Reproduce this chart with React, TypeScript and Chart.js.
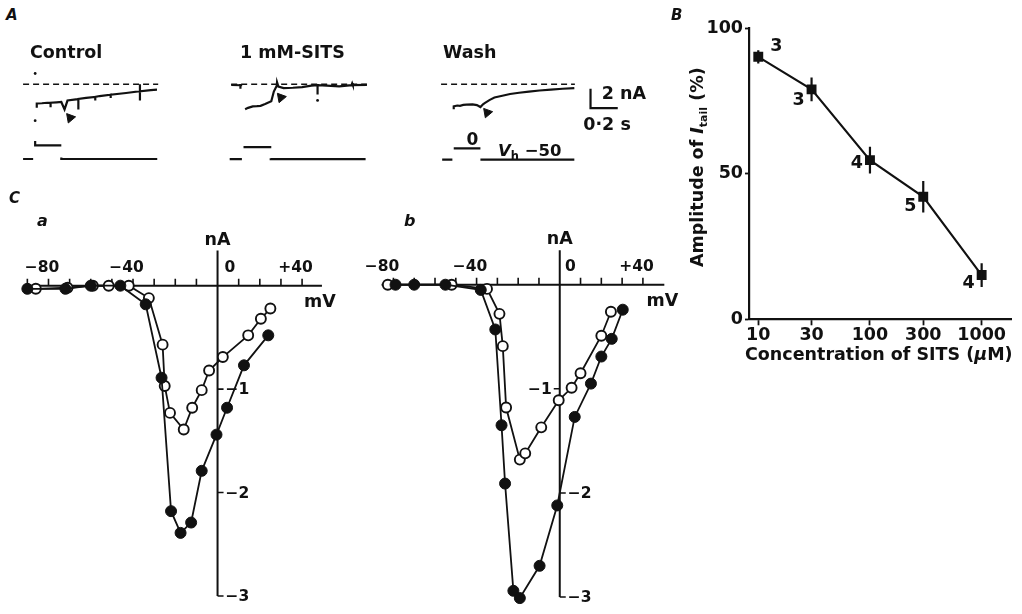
import React, { useEffect, useRef } from 'react';
import { Chart, registerables } from 'chart.js';

Chart.register(...registerables);

const FONT = '"DejaVu Sans", "Liberation Sans", Arial, sans-serif';
const INK = '#111';

type P = [number, number];

// ---------------- Panel A: current traces (time from step onset, s ; current, nA) ----------------
const controlTrace: P[] = [
  [0.012, -2.42], [0.012, -1.97], [0.05, -1.95], [0.09, -1.9], [0.115, -1.9], [0.115, -2.35], [0.115, -1.9],
  [0.16, -1.85], [0.195, -1.82], [0.219, -2.58], [0.241, -1.67], [0.322, -1.52], [0.322, -2.58], [0.322, -1.5],
  [0.38, -1.4], [0.448, -1.3], [0.448, -1.67], [0.448, -1.3], [0.48, -1.21], [0.563, -1.08], [0.563, -1.42],
  [0.563, -1.08], [0.678, -0.9], [0.781, -0.72], [0.781, 0], [0.781, -1.67], [0.781, -0.72], [0.862, -0.6], [0.908, -0.55],
];
const controlDots: P[] = [[0, 1.1], [0, -3.73]];
const controlArrow: P[] = [[0.261, -3.44]];
const controlBaseline: P[] = [[-0.09, 0], [0.917, 0]];
const controlVpre: P[] = [[-0.09, -50], [-0.015, -50]];
const controlVstep: P[] = [[0, 16], [0, 0], [0.195, 0]];
const controlVpost: P[] = [[0.195, -44], [0.195, -50], [0.91, -50]];

const sitsPre: P[] = [[-0.092, -0.08], [-0.023, -0.1], [-0.023, -0.45], [-0.023, -0.1], [-0.01, -0.1]];
const sitsTrace: P[] = [
  [0.012, -2.57], [0.034, -2.42], [0.069, -2.27], [0.1, -2.25], [0.127, -2.21], [0.161, -2.03], [0.207, -1.75],
  [0.226, -0.75], [0.248, -0.15], [0.25, 0.2], [0.26, -0.25], [0.299, -0.39], [0.368, -0.36], [0.437, -0.3],
  [0.506, -0.15], [0.552, -0.1], [0.552, -1.06], [0.552, -0.1], [0.621, -0.15], [0.713, -0.21], [0.805, -0.09],
  [0.81, 0.09], [0.815, -0.09], [0.92, -0.06],
];
const sitsDots: P[] = [[0.552, -1.66]];
const sitsArrow: P[] = [[0.279, -1.36]];
const sitsBaseline: P[] = [[-0.092, 0], [0.92, 0]];
const sitsVpre: P[] = [[-0.103, -50], [-0.012, -50]];
const sitsVstep: P[] = [[0, 0], [0.207, 0]];
const sitsVpost: P[] = [[0.203, -46], [0.203, -50], [0.91, -50]];

const washTrace: P[] = [
  [0, -2.57], [0, -2.27], [0.026, -2.18], [0.046, -2.21], [0.07, -2.12], [0.094, -2.09], [0.138, -2.06],
  [0.17, -2.14], [0.196, -2.34], [0.215, -2.05], [0.23, -1.91], [0.265, -1.6], [0.299, -1.36], [0.357, -1.18],
  [0.414, -1.0], [0.48, -0.87], [0.552, -0.75], [0.63, -0.64], [0.713, -0.55], [0.8, -0.46], [0.886, -0.39],
];
const washArrow: P[] = [[0.246, -2.91]];
const washBaseline: P[] = [[-0.093, 0], [0.89, 0]];
const washVpre: P[] = [[-0.085, -50], [-0.01, -50]];
const washVstep: P[] = [[0, 0], [0.196, 0]];
const washVpost: P[] = [[0.196, -50], [0.886, -50]];
// calibration bar: 2 nA / 0.2 s
const calibrationBar: P[] = [[1.005, -0.45], [1.005, -2.45], [1.205, -2.45]];

// ---------------- Panel B: dose–response ----------------
const sitsConc = [10, 30, 100, 300, 1000];
const tailAmp = [90.2, 79.0, 54.7, 42.1, 15.2];
const tailSem = [2.3, 4.1, 4.6, 5.4, 4.1];
const nCells = [3, 3, 4, 5, 4];
const nLabelOffsets: P[] = [[18, -10], [-13, 11], [-13, 3], [-13, 10], [-13, 8]];
const concTicks = [10, 30, 100, 300, 1000];
const ampTicks = [0, 50, 100];

// ---------------- Panel C: I–V relations (mV ; nA) ----------------
const ivAmVControl = [-90, -72, -60, -46, -34, -26.5, -22, -17.5, -12.5, -7.5, -0.5, 4.5, 12.5, 24];
const ivAnAControl = [-0.03, -0.03, 0, 0, -0.18, -0.89, -2.18, -2.39, -2.29, -1.79, -1.44, -1.18, -0.77, -0.48];
const ivAmVSits = [-86, -71, -59, -51.5, -42, -32.5, -26, -25, -22.5, -16, -12, -7.5, -4, 2.5, 14.5, 20.5, 25];
const ivAnASits = [-0.03, -0.02, 0, 0, 0, -0.12, -0.57, -0.97, -1.23, -1.39, -1.18, -1.01, -0.82, -0.69, -0.48, -0.32, -0.22];

const ivBmVControl = [-79, -70, -55, -38, -31, -28, -26.3, -22.3, -19.2, -9.7, -1.2, 7.2, 15, 20, 25, 30.3];
const ivBnAControl = [0, 0, 0, -0.05, -0.43, -1.35, -1.91, -2.94, -3.01, -2.7, -2.12, -1.27, -0.95, -0.69, -0.52, -0.24];
const ivBmVSits = [-82.7, -52, -35, -29, -27.4, -25.8, -19.2, -16.6, -8.9, -0.5, 5.7, 10, 20, 24.6];
const ivBnASits = [0, 0, -0.04, -0.28, -0.59, -1.18, -1.68, -1.62, -1.37, -1.11, -0.99, -0.85, -0.49, -0.26];

const ivTicksA = [-90, -80, -70, -60, -50, -40, -30, -20, -10, 10, 20, 30, 40];
const ivTicksB = [-80, -70, -60, -50, -40, -30, -20, -10, 10, 20, 30, 40];
const ivXLabels = [
  { v: -80, text: '−80' },
  { v: -40, text: '−40' },
  { v: 0, text: '0' },
  { v: 40, text: '+40' },
];
const ivYLabelsA = [
  { v: -1, text: '−1', left: false },
  { v: -2, text: '−2', left: false },
  { v: -3, text: '−3', left: false },
];
const ivYLabelsB = [
  { v: -1, text: '−1', left: true },
  { v: -2, text: '−2', left: false },
  { v: -3, text: '−3', left: false },
];

const pts = (a: P[]) => a.map(([x, y]) => ({ x, y }));
const zipPts = (xs: number[], ys: number[]) => xs.map((x, i) => ({ x, y: ys[i] }));

// ---------------- plugins ----------------
const ivAxesPlugin = {
  id: 'ivAxes',
  beforeDatasetsDraw(chart: any, _args: any, o: any) {
    const { ctx } = chart;
    const xs = chart.scales.x;
    const ys = chart.scales.y;
    const X = (v: number) => xs.getPixelForValue(v);
    const Y = (v: number) => ys.getPixelForValue(v);
    const x0 = X(0);
    const y0 = Y(0);
    ctx.save();
    ctx.strokeStyle = INK;
    ctx.lineWidth = 2;
    ctx.beginPath();
    ctx.moveTo(X(o.xFrom), y0);
    ctx.lineTo(X(o.xTo), y0);
    ctx.moveTo(x0, Y(o.yTo));
    ctx.lineTo(x0, Y(o.yFrom));
    ctx.stroke();
    ctx.lineWidth = 1.6;
    ctx.beginPath();
    for (const v of o.xTicks) {
      const p = X(v);
      ctx.moveTo(p, y0);
      ctx.lineTo(p, y0 - 7);
    }
    for (const l of o.yLabels) {
      const p = Y(l.v);
      ctx.moveTo(x0, p);
      ctx.lineTo(x0 + (l.left ? -6 : 6), p);
    }
    ctx.stroke();

    ctx.fillStyle = INK;
    ctx.font = `bold 15.5px ${FONT}`;
    ctx.textBaseline = 'alphabetic';
    ctx.textAlign = 'left';
    for (const l of o.xLabels) {
      const p = X(l.v);
      const hasSign = l.text[0] === '−' || l.text[0] === '+';
      const sign = hasSign ? l.text[0] : '';
      const digits = hasSign ? l.text.slice(1) : l.text;
      const dw = ctx.measureText(digits).width;
      const sw = hasSign ? ctx.measureText(sign).width : 0;
      const shift = l.v === 0 ? o.zeroShift : l.v === -80 ? o.leftShift : 0;
      ctx.fillText(l.text, p + shift - dw / 2 - sw, y0 - 14);
    }
    ctx.textBaseline = 'middle';
    for (const l of o.yLabels) {
      const p = Y(l.v);
      ctx.textAlign = l.left ? 'right' : 'left';
      ctx.fillText(l.text, x0 + (l.left ? -8 : 8), p + 1);
    }
    ctx.font = `bold 17.5px ${FONT}`;
    ctx.textAlign = 'center';
    ctx.textBaseline = 'alphabetic';
    ctx.fillText('nA', x0, Y(o.yTo) - 6);
    ctx.fillText('mV', X(o.xTo) - 2, y0 + 21.5);
    ctx.restore();
  },
};

const doseExtrasPlugin = {
  id: 'doseExtras',
  afterDatasetsDraw(chart: any) {
    const { ctx } = chart;
    const xs = chart.scales.x;
    const ys = chart.scales.y;
    ctx.save();
    ctx.strokeStyle = INK;
    ctx.lineWidth = 2.2;
    ctx.beginPath();
    sitsConc.forEach((c, i) => {
      const px = xs.getPixelForValue(c);
      ctx.moveTo(px, ys.getPixelForValue(tailAmp[i] - tailSem[i]));
      ctx.lineTo(px, ys.getPixelForValue(tailAmp[i] + tailSem[i]));
    });
    ctx.stroke();
    ctx.fillStyle = INK;
    ctx.font = `bold 17.5px ${FONT}`;
    ctx.textAlign = 'center';
    ctx.textBaseline = 'middle';
    nCells.forEach((n, i) => {
      const px = xs.getPixelForValue(sitsConc[i]);
      const py = ys.getPixelForValue(tailAmp[i]);
      ctx.fillText(String(n), px + nLabelOffsets[i][0], py + nLabelOffsets[i][1]);
    });
    ctx.restore();
  },
};

// ---------------- chart configs ----------------
const PX_PER_S = 145;
const A_TOP = 60;
const A_H = 115;
const NA_MAX = 20 / 11;
const NA_MIN = -95 / 11;

type TraceSpec = {
  left: number;
  onset: number;
  width: number;
  vMin: number;
  vMax: number;
  lines: { data: P[]; axis: 'y' | 'v'; dash?: number[]; w?: number }[];
  arrow: P[];
  dots: P[];
};

function traceConfig(s: TraceSpec): any {
  const xmin = (s.left - s.onset) / PX_PER_S;
  const xmax = xmin + s.width / PX_PER_S;
  const datasets: any[] = s.lines.map((l) => ({
    data: pts(l.data),
    yAxisID: l.axis,
    showLine: true,
    borderColor: INK,
    borderWidth: l.w ?? 2.2,
    borderDash: l.dash ?? [],
    pointRadius: 0,
    tension: 0,
    fill: false,
  }));
  datasets.push({
    data: pts(s.arrow),
    yAxisID: 'y',
    showLine: false,
    pointStyle: 'triangle',
    pointRadius: 5.5,
    rotation: -40,
    backgroundColor: INK,
    borderColor: INK,
    borderWidth: 1,
  });
  datasets.push({
    data: pts(s.dots),
    yAxisID: 'y',
    showLine: false,
    pointRadius: 1.4,
    backgroundColor: INK,
    borderWidth: 0,
  });
  return {
    type: 'scatter',
    data: { datasets },
    options: {
      animation: false,
      responsive: false,
      events: [],
      layout: { padding: 0 },
      plugins: { legend: { display: false }, tooltip: { enabled: false } },
      scales: {
        x: { type: 'linear', display: false, min: xmin, max: xmax },
        y: { type: 'linear', display: false, min: NA_MIN, max: NA_MAX },
        v: { type: 'linear', position: 'right', display: false, min: s.vMin, max: s.vMax },
      },
    },
  };
}

function ivConfig(
  ctrlX: number[], ctrlY: number[], sitsX: number[], sitsY: number[],
  range: { xmin: number; xmax: number; ymin: number; ymax: number },
  axes: any,
): any {
  return {
    type: 'scatter',
    data: {
      datasets: [
        {
          data: zipPts(ctrlX, ctrlY),
          showLine: true,
          borderColor: INK,
          borderWidth: 1.8,
          pointRadius: 5.5,
          pointBackgroundColor: INK,
          pointBorderColor: INK,
          pointBorderWidth: 1,
        },
        {
          data: zipPts(sitsX, sitsY),
          showLine: true,
          borderColor: INK,
          borderWidth: 1.8,
          pointRadius: 5,
          pointBackgroundColor: '#fff',
          pointBorderColor: INK,
          pointBorderWidth: 1.9,
        },
      ],
    },
    options: {
      animation: false,
      responsive: false,
      events: [],
      layout: { padding: 0 },
      plugins: { legend: { display: false }, tooltip: { enabled: false }, ivAxes: axes },
      scales: {
        x: { type: 'linear', display: false, min: range.xmin, max: range.xmax },
        y: { type: 'linear', display: false, min: range.ymin, max: range.ymax },
      },
    },
    plugins: [ivAxesPlugin],
  };
}

function doseConfig(): any {
  const tickFont = { family: FONT, size: 17.5, weight: 'bold' as const };
  return {
    type: 'scatter',
    data: {
      datasets: [
        {
          data: zipPts(sitsConc, tailAmp),
          showLine: true,
          borderColor: INK,
          borderWidth: 2.1,
          pointStyle: 'rect',
          pointRadius: 7,
          pointBackgroundColor: INK,
          pointBorderColor: INK,
          pointBorderWidth: 0,
        },
      ],
    },
    options: {
      animation: false,
      responsive: false,
      events: [],
      layout: { padding: { top: 18.3, right: 10.3, left: 0, bottom: 0 } },
      plugins: { legend: { display: false }, tooltip: { enabled: false } },
      scales: {
        x: {
          type: 'logarithmic',
          position: 'bottom',
          min: 8.26,
          max: 1858,
          afterBuildTicks: (scale: any) => {
            scale.ticks = concTicks.map((v) => ({ value: v }));
          },
          afterFit: (scale: any) => {
            scale.height = 60.7;
          },
          ticks: {
            callback: (v: any) => String(v),
            autoSkip: false,
            maxRotation: 0,
            minRotation: 0,
            padding: 0,
            color: INK,
            font: tickFont,
          },
          grid: { drawOnChartArea: false, drawTicks: true, tickLength: 6, tickColor: INK, tickWidth: 1.8, color: INK },
          border: { display: true, color: INK, width: 2.2 },
        },
        y: {
          type: 'linear',
          position: 'left',
          min: 0,
          max: 100,
          afterBuildTicks: (scale: any) => {
            scale.ticks = ampTicks.map((v) => ({ value: v }));
          },
          afterFit: (scale: any) => {
            scale.width = 69;
          },
          ticks: { padding: 2, color: INK, font: tickFont, callback: (v: any) => String(v) },
          grid: { drawOnChartArea: false, drawTicks: true, tickLength: 4, tickColor: INK, tickWidth: 1.8, color: INK },
          border: { display: true, color: INK, width: 2.2 },
        },
      },
    },
    plugins: [doseExtrasPlugin],
  };
}

// ---------------- components ----------------
function ChartCanvas(props: { left: number; top: number; width: number; height: number; make: () => any }) {
  const ref = useRef<HTMLCanvasElement>(null);
  useEffect(() => {
    const chart = new Chart(ref.current as HTMLCanvasElement, props.make());
    return () => chart.destroy();
  }, []);
  const { left, top, width, height } = props;
  return (
    <canvas
      ref={ref}
      width={width}
      height={height}
      style={{ position: 'absolute', left, top, width, height }}
    />
  );
}

function Txt(props: { x: number; base: number; size?: number; italic?: boolean; children: React.ReactNode; style?: React.CSSProperties }) {
  const size = props.size ?? 17.5;
  return (
    <div
      style={{
        position: 'absolute',
        left: props.x,
        top: props.base - 0.846 * size,
        fontSize: size,
        lineHeight: 1,
        fontWeight: 'bold',
        fontStyle: props.italic ? 'italic' : 'normal',
        whiteSpace: 'nowrap',
        fontFamily: FONT,
        color: INK,
        ...props.style,
      }}
    >
      {props.children}
    </div>
  );
}

const controlSpec: TraceSpec = {
  left: 12, onset: 30, width: 174, vMin: -84.97, vMax: 290.8,
  lines: [
    { data: controlBaseline, axis: 'y', dash: [6, 4], w: 1.6 },
    { data: controlTrace, axis: 'y' },
    { data: controlVpre, axis: 'v' },
    { data: controlVstep, axis: 'v' },
    { data: controlVpost, axis: 'v' },
  ],
  arrow: controlArrow,
  dots: controlDots,
};
const sitsSpec: TraceSpec = {
  left: 221, onset: 238.3, width: 174, vMin: -88.9, vMax: 337,
  lines: [
    { data: sitsBaseline, axis: 'y', dash: [6, 4], w: 1.6 },
    { data: sitsPre, axis: 'y' },
    { data: sitsTrace, axis: 'y' },
    { data: sitsVpre, axis: 'v' },
    { data: sitsVstep, axis: 'v' },
    { data: sitsVpost, axis: 'v' },
  ],
  arrow: sitsArrow,
  dots: sitsDots,
};
const washSpec: TraceSpec = {
  left: 431, onset: 448.3, width: 212, vMin: -89.4, vMax: 363.4,
  lines: [
    { data: washBaseline, axis: 'y', dash: [6, 4], w: 1.6 },
    { data: washTrace, axis: 'y' },
    { data: washVpre, axis: 'v' },
    { data: washVstep, axis: 'v' },
    { data: washVpost, axis: 'v' },
    { data: calibrationBar, axis: 'y', w: 2.2 },
  ],
  arrow: washArrow,
  dots: [],
};

export default function App() {
  return (
    <div
      style={{
        position: 'fixed',
        left: 0,
        top: 0,
        width: 1022,
        height: 614,
        background: '#fff',
        overflow: 'hidden',
        fontFamily: FONT,
      }}
    >
      {/* Panel A */}
      <ChartCanvas left={controlSpec.left} top={A_TOP} width={controlSpec.width} height={A_H} make={() => traceConfig(controlSpec)} />
      <ChartCanvas left={sitsSpec.left} top={A_TOP} width={sitsSpec.width} height={A_H} make={() => traceConfig(sitsSpec)} />
      <ChartCanvas left={washSpec.left} top={A_TOP} width={washSpec.width} height={A_H} make={() => traceConfig(washSpec)} />

      {/* Panel C */}
      <ChartCanvas
        left={0}
        top={200}
        width={350}
        height={414}
        make={() =>
          ivConfig(ivAmVControl, ivAnAControl, ivAmVSits, ivAnASits,
            { xmin: -99.68, xmax: 59.41, ymin: -3.1075, ymax: 0.7617 },
            { xFrom: -92, xTo: 49.4, yFrom: -3, yTo: 0.34, xTicks: ivTicksA, xLabels: ivXLabels, yLabels: ivYLabelsA, zeroShift: 12.4, leftShift: 0 })
        }
      />
      <ChartCanvas
        left={360}
        top={200}
        width={340}
        height={414}
        make={() =>
          ivConfig(ivBmVControl, ivBnAControl, ivBmVSits, ivBnASits,
            { xmin: -92.76, xmax: 64.14, ymin: -3.0966, ymax: 0.7474 },
            { xFrom: -85.7, xTo: 50.3, yFrom: -3, yTo: 0.33, xTicks: ivTicksB, xLabels: ivXLabels, yLabels: ivYLabelsB, zeroShift: 10.7, leftShift: -5 })
        }
      />

      {/* Panel B */}
      <ChartCanvas left={680} top={10} width={342} height={370} make={doseConfig} />

      {/* texts */}
      <Txt x={6} base={20.7} size={15} italic>A</Txt>
      <Txt x={30} base={59.3}>Control</Txt>
      <Txt x={240} base={59.3}>1 mM-SITS</Txt>
      <Txt x={443} base={59.3}>Wash</Txt>
      <Txt x={466.5} base={145} size={17}>0</Txt>
      <Txt x={498} base={156.7} size={16.5}>
        <i>V</i>
        <span style={{ fontSize: 11.5, position: 'relative', top: 4 }}>h</span> −50
      </Txt>
      <Txt x={601.7} base={100}>2 nA</Txt>
      <Txt x={583.3} base={131}>0·2 s</Txt>

      <Txt x={671} base={21} size={15} italic>B</Txt>
      <Txt x={745} base={360.7}>
        Concentration of SITS (<i>μ</i>M)
      </Txt>
      <div
        style={{
          position: 'absolute',
          left: 688.5,
          top: 266.7,
          transformOrigin: 'left top',
          transform: 'rotate(-90deg)',
          fontSize: 17.5,
          lineHeight: 1,
          fontWeight: 'bold',
          whiteSpace: 'nowrap',
          fontFamily: FONT,
          color: INK,
        }}
      >
        Amplitude of <i>I</i>
        <span style={{ fontSize: 11, position: 'relative', top: 4 }}>tail</span> (%)
      </div>

      <Txt x={9} base={203.3} size={15} italic>C</Txt>
      <Txt x={37} base={226.7} size={16} italic>a</Txt>
      <Txt x={404} base={226.7} size={16} italic>b</Txt>
    </div>
  );
}
